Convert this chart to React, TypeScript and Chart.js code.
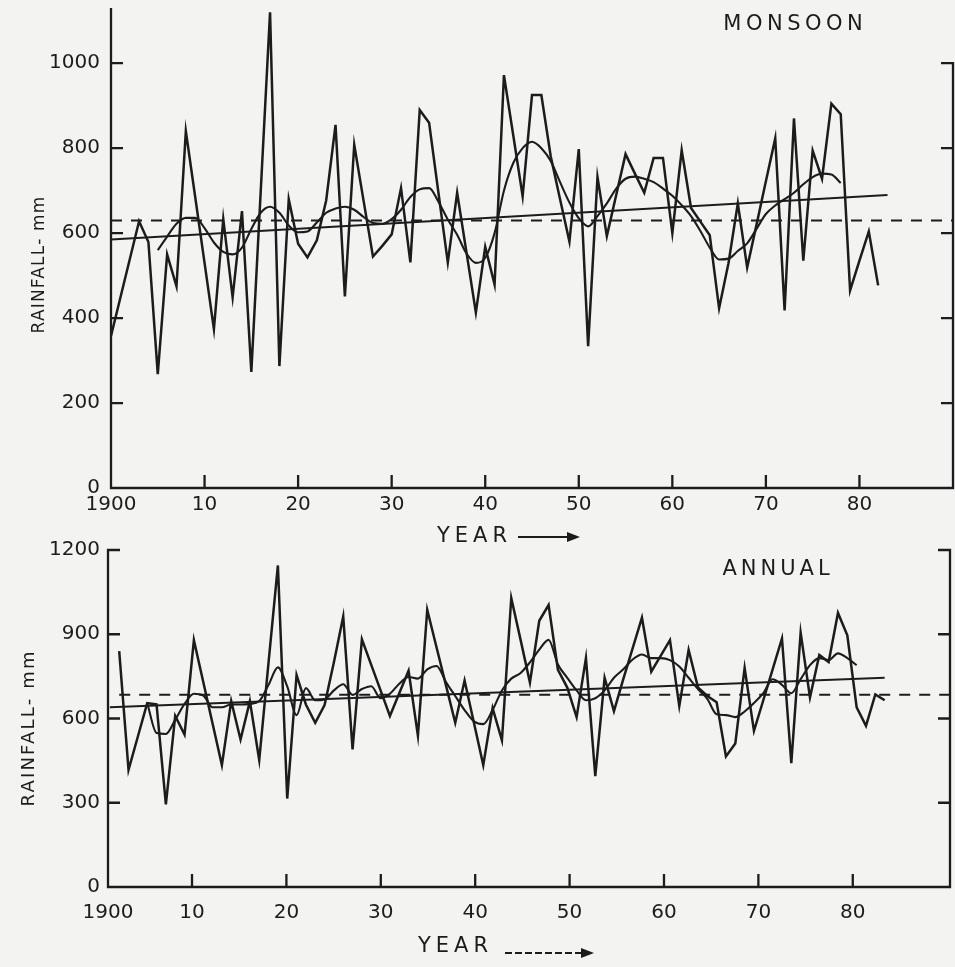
import React, { useEffect, useRef } from 'react';
import { Chart, registerables } from 'chart.js';

Chart.register(...registerables);

const INK = '#1c1c1c';
const FAMILY = "'DejaVu Sans', sans-serif";

// ---------- data ----------
const firstYear = 1900;
const xTickYears = [1900, 1910, 1920, 1930, 1940, 1950, 1960, 1970, 1980];
const monsoonYTicks = [0, 200, 400, 600, 800, 1000];
const annualYTicks = [0, 300, 600, 900, 1200];

// Monsoon rainfall (mm), 1900-1982
const monsoonRain = [
  358, 448, 538, 628, 579, 268, 550, 475, 840, 685,
  530, 374, 633, 449, 652, 273, 697, 1120, 287, 680,
  575, 543, 583, 677, 855, 451, 808, 676, 545, 570,
  597, 706, 531, 890, 860, 695, 531, 695, 554, 413,
  568, 479, 972, 830, 687, 925, 925, 781, 680, 580,
  798, 334, 732, 593, 690, 786, 740, 695, 777, 777,
  600, 795, 659, 627, 595, 423, 529, 670, 519, 620,
  722, 823, 418, 870, 535, 794, 728, 905, 880, 465,
  535, 604, 477,
];
// Smoothed monsoon curve, 1905-1978
const monsoonSmoothStart = 1905;
const monsoonSmooth = [
  560, 592, 622, 636, 636, 612, 578, 556, 550, 566,
  610, 648, 662, 648, 618, 602, 604, 625, 648, 658,
  662, 655, 638, 624, 622, 633, 655, 685, 703, 706,
  674, 632, 596, 552, 530, 542, 600, 700, 765, 800,
  815, 800, 770, 720, 672, 635, 616, 640, 670, 705,
  728, 733, 728, 720, 705, 688, 666, 640, 605, 566,
  538, 540, 558, 576, 610, 645, 665, 680, 695, 715,
  732, 740, 738, 718,
];
const monsoonTrendYears = [1900, 1983];
const monsoonTrend = [585, 690];
const monsoonMeanYears = [1900, 1990];
const monsoonMean = 630;

// Annual rainfall (mm), 1900-1982
const annualRain = [
  840, 417, 536, 655, 650, 294, 609, 543, 879, 731,
  582, 434, 662, 525, 662, 452, 800, 1145, 315, 755,
  650, 585, 648, 800, 963, 490, 882, 791, 700, 609,
  690, 770, 539, 987, 853, 719, 585, 735, 585, 434,
  637, 522, 1029, 880, 728, 948, 1004, 773, 710, 605,
  815, 395, 745, 626, 740, 850, 959, 767, 823, 879,
  644, 844, 711, 680, 658, 465, 511, 780, 556, 665,
  775, 885, 441, 906, 675, 826, 801, 976, 896, 640,
  574, 686, 665,
];
// Smoothed annual curve, 1903-1979
const annualSmoothStart = 1903;
const annualSmooth = [
  655, 548, 545, 595, 652, 688, 682, 640, 640, 650,
  650, 652, 662, 720, 782, 714, 612, 708, 665, 668,
  700, 722, 684, 705, 715, 672, 688, 724, 748, 742,
  775, 787, 730, 680, 630, 590, 580, 630, 700, 742,
  762, 800, 845, 880, 792, 745, 700, 665, 672, 700,
  745, 775, 810, 828, 815, 815, 808, 785, 745, 705,
  670, 615, 612, 605, 625, 655, 690, 740, 720, 690,
  740, 790, 815, 808, 832, 815, 790,
];
const annualTrendYears = [1899, 1982];
const annualTrend = [640, 745];
const annualMeanYears = [1900, 1989];
const annualMean = 685;

// ---------- helpers ----------
const series = (start: number, vals: number[]) => vals.map((v, i) => ({ x: start + i, y: v }));
const pairs = (xs: number[], ys: number[] | number) =>
  xs.map((x, i) => ({ x, y: Array.isArray(ys) ? ys[i] : ys }));

const rawDs = (data: any) => ({ data, borderColor: INK, borderWidth: 2.5, pointRadius: 0, tension: 0, borderJoinStyle: 'miter' });
const smoothDs = (data: any) => ({ data, borderColor: INK, borderWidth: 2.1, pointRadius: 0, cubicInterpolationMode: 'monotone' });
const trendDs = (data: any) => ({ data, borderColor: INK, borderWidth: 2, pointRadius: 0, tension: 0 });
const meanDs = (data: any) => ({ data, borderColor: INK, borderWidth: 2, borderDash: [11, 9], pointRadius: 0, tension: 0 });

type TextSpec = { text: string; x: number; y: number; size: number; spacing: number; rotate?: boolean };

function makeDecor(spec: {
  tickScale: string;
  leftTop: number;
  leftCap: boolean;
  rightTop: number;
  yMarks: number[];
  texts: TextSpec[];
  arrow: { x1: number; x2: number; y: number; dash: number[] };
}) {
  return {
    id: 'decor',
    afterDatasetsDraw(chart: any) {
      const { ctx, chartArea: a, scales } = chart;
      const y = scales.y;
      const xs = scales[spec.tickScale];
      const tl = 12;
      ctx.save();
      ctx.strokeStyle = INK;
      ctx.fillStyle = INK;
      ctx.lineWidth = 2.3;
      ctx.lineJoin = 'miter';
      // frame
      ctx.beginPath();
      const lt = y.getPixelForValue(spec.leftTop);
      if (spec.leftCap) {
        ctx.moveTo(a.left + tl, lt);
        ctx.lineTo(a.left, lt);
      } else {
        ctx.moveTo(a.left, lt);
      }
      ctx.lineTo(a.left, a.bottom);
      ctx.lineTo(a.right, a.bottom);
      const rt = y.getPixelForValue(spec.rightTop);
      ctx.lineTo(a.right, rt);
      ctx.lineTo(a.right - tl, rt);
      ctx.stroke();
      // tick marks (inward)
      ctx.beginPath();
      for (const v of spec.yMarks) {
        const py = y.getPixelForValue(v);
        ctx.moveTo(a.left, py);
        ctx.lineTo(a.left + tl, py);
        if (v < spec.rightTop) {
          ctx.moveTo(a.right, py);
          ctx.lineTo(a.right - tl, py);
        }
      }
      xs.ticks.slice(1).forEach((t: any) => {
        const px = xs.getPixelForValue(t.value);
        ctx.moveTo(px, a.bottom);
        ctx.lineTo(px, a.bottom - 13);
      });
      ctx.stroke();
      // texts
      ctx.textAlign = 'center';
      ctx.textBaseline = 'middle';
      for (const t of spec.texts) {
        ctx.save();
        ctx.font = `${t.size}px ${FAMILY}`;
        (ctx as any).letterSpacing = `${t.spacing}px`;
        ctx.translate(t.x, t.y);
        if (t.rotate) ctx.rotate(-Math.PI / 2);
        ctx.fillText(t.text, t.spacing / 2, 0);
        ctx.restore();
      }
      // arrow
      const ar = spec.arrow;
      ctx.lineWidth = 1.8;
      ctx.setLineDash(ar.dash);
      ctx.beginPath();
      ctx.moveTo(ar.x1, ar.y);
      ctx.lineTo(ar.x2 - 8, ar.y);
      ctx.stroke();
      ctx.setLineDash([]);
      ctx.beginPath();
      ctx.moveTo(ar.x2, ar.y);
      ctx.lineTo(ar.x2 - 13, ar.y - 5);
      ctx.lineTo(ar.x2 - 13, ar.y + 5);
      ctx.closePath();
      ctx.fill();
      ctx.restore();
    },
  };
}

const tickFont = { family: FAMILY, size: 20 };
const hiddenGrid = { display: false, drawTicks: false };

const fixX = (h: number) => (s: any) => {
  s.height = h;
  s.paddingLeft = 0;
  s.paddingRight = 0;
};
const fixY = (w: number) => (s: any) => {
  s.width = w;
  s.paddingTop = 0;
  s.paddingBottom = 0;
};

function monsoonConfig(): any {
  return {
    type: 'line',
    data: {
      datasets: [
        rawDs(series(firstYear, monsoonRain)),
        smoothDs(series(monsoonSmoothStart, monsoonSmooth)),
        trendDs(pairs(monsoonTrendYears, monsoonTrend)),
        meanDs(pairs(monsoonMeanYears, monsoonMean)),
      ],
    },
    options: {
      animation: false,
      responsive: false,
      devicePixelRatio: 1,
      layout: { padding: { top: 8, right: 2, left: 0, bottom: 0 } },
      plugins: { legend: { display: false }, tooltip: { enabled: false } },
      scales: {
        x: {
          type: 'linear',
          min: 1900,
          max: 1990,
          grid: hiddenGrid,
          border: { display: false },
          ticks: {
            font: tickFont,
            color: INK,
            padding: 5,
            autoSkip: false,
            maxRotation: 0,
            callback: (v: number) => (v === 1900 ? '1900' : String(v - 1900)),
          },
          afterBuildTicks: (s: any) => {
            s.ticks = xTickYears.map((v) => ({ value: v }));
          },
          afterFit: fixX(57),
        },
        y: {
          min: 0,
          max: 1130,
          grid: hiddenGrid,
          border: { display: false },
          ticks: { font: tickFont, color: INK, padding: 11, callback: (v: number) => String(v) },
          afterBuildTicks: (s: any) => {
            s.ticks = monsoonYTicks.map((v) => ({ value: v }));
          },
          afterFit: fixY(111),
        },
      },
    },
    plugins: [
      makeDecor({
        tickScale: 'x',
        leftTop: 1130,
        leftCap: false,
        rightTop: 1000,
        yMarks: monsoonYTicks.slice(1),
        texts: [
          { text: 'RAINFALL- mm', x: 40, y: 265, size: 17, spacing: 1.2, rotate: true },
          { text: 'MONSOON', x: 793, y: 25, size: 21, spacing: 4.5 },
          { text: 'YEAR', x: 472, y: 537, size: 21, spacing: 5 },
        ],
        arrow: { x1: 518, x2: 580, y: 537, dash: [] },
      }),
    ],
  };
}

const annualTickMin = 1901.1;

function annualConfig(): any {
  return {
    type: 'line',
    data: {
      datasets: [
        rawDs(series(firstYear, annualRain)),
        smoothDs(series(annualSmoothStart, annualSmooth)),
        trendDs(pairs(annualTrendYears, annualTrend)),
        meanDs(pairs(annualMeanYears, annualMean)),
      ],
    },
    options: {
      animation: false,
      responsive: false,
      devicePixelRatio: 1,
      layout: { padding: { top: 25, right: 5, left: 0, bottom: 0 } },
      plugins: { legend: { display: false }, tooltip: { enabled: false } },
      scales: {
        x: { type: 'linear', display: false, min: 1898.8, max: 1989.0 },
        x2: {
          type: 'linear',
          position: 'bottom',
          min: annualTickMin,
          max: 1990.3,
          grid: hiddenGrid,
          border: { display: false },
          ticks: {
            font: tickFont,
            color: INK,
            padding: 14,
            autoSkip: false,
            maxRotation: 0,
            callback: (_v: number, i: number) => (i === 0 ? '1900' : String(xTickYears[i] - 1900)),
          },
          afterBuildTicks: (s: any) => {
            s.ticks = xTickYears.map((v) => ({ value: Math.max(v, annualTickMin) }));
          },
          afterFit: fixX(80),
        },
        y: {
          min: 0,
          max: 1200,
          grid: hiddenGrid,
          border: { display: false },
          ticks: { font: tickFont, color: INK, padding: 8, callback: (v: number) => String(v) },
          afterBuildTicks: (s: any) => {
            s.ticks = annualYTicks.map((v) => ({ value: v }));
          },
          afterFit: fixY(108),
        },
      },
    },
    plugins: [
      makeDecor({
        tickScale: 'x2',
        leftTop: 1200,
        leftCap: true,
        rightTop: 1200,
        yMarks: annualYTicks.slice(1, -1),
        texts: [
          { text: 'RAINFALL- mm', x: 29, y: 204, size: 18, spacing: 2.2, rotate: true },
          { text: 'ANNUAL', x: 776, y: 45, size: 21, spacing: 4 },
          { text: 'YEAR', x: 453, y: 422, size: 21, spacing: 5 },
        ],
        arrow: { x1: 505, x2: 594, y: 428, dash: [7, 3] },
      }),
    ],
  };
}

function Panel({ make, top, height }: { make: () => any; top: number; height: number }) {
  const ref = useRef<HTMLCanvasElement>(null);
  useEffect(() => {
    const chart = new Chart(ref.current as HTMLCanvasElement, make());
    return () => chart.destroy();
  }, []);
  return (
    <canvas
      ref={ref}
      width={955}
      height={height}
      style={{ position: 'absolute', left: 0, top, width: 955, height }}
    />
  );
}

export default function App() {
  return (
    <div
      style={{
        position: 'absolute',
        left: 0,
        top: 0,
        width: 955,
        height: 967,
        background: '#f3f3f2',
        overflow: 'hidden',
      }}
    >
      <Panel make={monsoonConfig} top={0} height={545} />
      <Panel make={annualConfig} top={525} height={442} />
    </div>
  );
}
